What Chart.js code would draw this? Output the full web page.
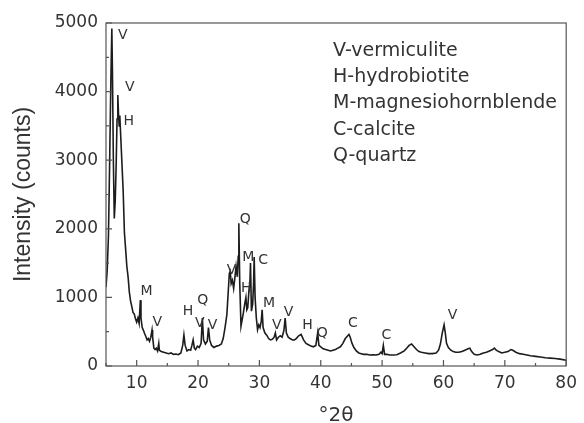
<!DOCTYPE html>
<html>
<head>
<meta charset="utf-8">
<script src="https://cdn.jsdelivr.net/npm/chart.js@4/dist/chart.umd.min.js"></script>
<style>
  html, body { margin: 0; padding: 0; background: #fff; }
  #wrap { width: 584px; height: 423px; position: relative; }
</style>
</head>
<body>
<div id="wrap"><canvas id="c"></canvas></div>
<script>
// ---- data ----
const twoTheta = [
  5.0,5.2,5.4,5.6,5.8,5.95,6.05,6.2,6.35,6.5,6.65,6.8,6.92,7.05,7.15,7.25,7.4,7.6,7.8,8.0,
  8.2,8.4,8.6,8.8,9.0,9.2,9.4,9.6,9.8,10.0,10.2,10.4,10.6,10.7,10.9,11.1,11.3,11.5,11.7,11.9,
  12.1,12.3,12.5,12.6,12.8,13.0,13.2,13.4,13.6,13.7,14.0,14.4,14.8,15.2,15.6,16.0,16.4,16.8,17.2,17.5,
  17.7,17.9,18.2,18.5,18.8,19.0,19.2,19.4,19.6,19.9,20.2,20.5,20.7,20.9,21.2,21.5,21.7,21.9,22.2,22.6,
  23.0,23.4,23.8,24.1,24.4,24.7,24.9,25.1,25.25,25.4,25.6,25.8,26.0,26.2,26.4,26.55,26.65,26.8,27.0,27.2,
  27.4,27.6,27.8,27.95,28.1,28.3,28.45,28.55,28.7,28.9,29.05,29.15,29.3,29.5,29.7,29.9,30.1,30.3,30.45,30.6,
  30.9,31.2,31.5,31.8,32.1,32.4,32.6,32.8,33.1,33.4,33.7,34.0,34.2,34.4,34.7,35.0,35.4,35.7,36.0,36.4,
  36.8,37.2,37.6,38.0,38.4,38.8,39.2,39.5,39.7,40.0,40.4,40.8,41.2,41.6,42.0,42.4,42.8,43.2,43.6,44.0,
  44.4,44.6,44.8,45.1,45.4,45.8,46.2,46.6,47.0,47.5,48.0,48.5,49.0,49.5,49.8,50.0,50.2,50.4,50.8,51.2,
  51.8,52.4,53.0,53.6,54.0,54.4,54.8,55.2,55.6,56.0,56.4,57.0,57.6,58.2,58.8,59.2,59.5,59.8,60.1,60.3,
  60.5,60.8,61.2,61.6,62.0,62.5,63.0,63.5,64.0,64.3,64.6,65.0,65.5,66.0,66.5,67.0,67.5,68.0,68.3,68.6,
  69.0,69.5,70.0,70.5,71.0,71.3,71.8,72.4,73.0,73.6,74.2,75.0,75.8,76.6,77.4,78.2,79.0,80.0
];
const intensity = [
  1150,1400,1900,3000,4200,4920,4300,3000,2150,2400,2900,3600,3950,3650,3500,3650,3350,2950,2550,1950,
  1700,1450,1300,1080,950,870,780,760,690,640,700,620,960,700,560,520,470,430,380,400,
  360,420,525,420,260,240,260,220,330,230,210,200,190,180,190,170,175,165,190,300,
  450,300,220,240,230,300,380,260,240,290,270,330,700,380,320,360,560,380,300,270,
  290,300,320,400,560,750,1050,1350,1380,1200,1250,1130,1280,1450,1300,1600,2080,1200,580,680,
  780,900,1000,820,850,1100,1200,1500,800,900,1200,1590,1000,700,530,600,560,650,820,560,
  480,450,400,380,390,420,480,380,420,440,420,520,700,480,420,400,380,380,400,440,
  460,380,330,310,290,280,300,480,300,280,250,240,230,220,230,240,260,280,330,400,
  440,460,420,330,270,220,190,180,170,170,160,165,160,170,200,180,300,170,170,160,
  160,165,190,220,260,300,320,280,240,210,200,190,180,180,190,230,320,480,600,480,
  330,270,230,210,200,200,210,230,250,260,210,170,160,170,190,200,220,240,260,230,
  210,190,200,210,240,230,200,180,170,160,150,140,130,120,115,110,100,85
];

// phase-marker letters (placed in data coordinates)
const markLabels = ['V','V','H','M','V','H','Q','V','V','V','Q','M','C','H','M','V','V','H','Q','C','C','V'];
const markX = [7.74,8.86,8.70,11.6,13.37,18.36,20.77,20.29,22.38,25.44,27.69,28.18,30.59,27.85,31.56,32.84,34.77,37.83,40.25,45.24,50.71,61.49];
const markY = [4825,4067,3571,1093,641,802,962,627,598,1399,2143,1589,1545,1137,918,598,787,598,481,627,452,743];

const legendLines = ['V-vermiculite','H-hydrobiotite','M-magnesiohornblende','C-calcite','Q-quartz'];

const xTicksLabelled = [10,20,30,40,50,60,70,80];
const yTicksLabelled = [0,1000,2000,3000,4000,5000];

// ---- chart ----
const TEXT = '#333333';
const FRAME = '#555555';

const points = twoTheta.map((x, i) => ({ x: x, y: intensity[i] }));

const decor = {
  id: 'decor',
  afterDraw(chart) {
    const ctx = chart.ctx;
    const a = chart.chartArea;
    const xs = chart.scales.x, ys = chart.scales.y;
    ctx.save();
    // frame
    ctx.strokeStyle = FRAME;
    ctx.lineWidth = 1.2;
    ctx.strokeRect(a.left, a.top, a.right - a.left, a.bottom - a.top);
    // inward ticks
    ctx.beginPath();
    xs.ticks.forEach(t => {
      const px = xs.getPixelForValue(t.value);
      const len = xTicksLabelled.includes(t.value) ? 6 : 3;
      ctx.moveTo(px, a.bottom);
      ctx.lineTo(px, a.bottom - len);
    });
    ys.ticks.forEach(t => {
      const py = ys.getPixelForValue(t.value);
      const len = yTicksLabelled.includes(t.value) ? 6 : 3;
      ctx.moveTo(a.left, py);
      ctx.lineTo(a.left + len, py);
    });
    ctx.stroke();
    // phase letters
    ctx.fillStyle = TEXT;
    ctx.font = '14px "DejaVu Sans"';
    ctx.textAlign = 'center';
    ctx.textBaseline = 'middle';
    markLabels.forEach((m, i) => {
      ctx.fillText(m, xs.getPixelForValue(markX[i]), ys.getPixelForValue(markY[i]));
    });
    // legend text block
    ctx.font = '19px "DejaVu Sans"';
    ctx.textAlign = 'left';
    legendLines.forEach((s, i) => {
      ctx.fillText(s, a.left + 227, a.top + 28 + i * 26.2);
    });
    ctx.restore();
  }
};

new Chart(document.getElementById('c'), {
  type: 'line',
  data: {
    datasets: [{
      data: points,
      borderColor: '#1c1c1c',
      borderWidth: 1.6,
      pointRadius: 0,
      tension: 0,
      fill: false
    }]
  },
  options: {
    responsive: true,
    maintainAspectRatio: false,
    animation: false,
    events: [],
    layout: { padding: { top: 23, right: 12, left: 0, bottom: 0 } },
    plugins: { legend: { display: false }, tooltip: { enabled: false } },
    scales: {
      x: {
        type: 'linear',
        min: 5, max: 80,
        grid: { display: false, drawTicks: false },
        border: { display: false },
        ticks: {
          stepSize: 5,
          autoSkip: false,
          maxRotation: 0,
          padding: 7,
          color: TEXT,
          font: { family: 'DejaVu Sans', size: 17 },
          callback: v => xTicksLabelled.includes(v) ? String(v) : ''
        },
        title: {
          display: true,
          text: '°2θ',
          color: TEXT,
          font: { family: 'DejaVu Sans', size: 20, lineHeight: 0.8 },
          padding: { top: 0, bottom: -1 }
        },
        afterFit(scale) { scale.height = 57; }
      },
      y: {
        min: 0, max: 5000,
        grid: { display: false, drawTicks: false },
        border: { display: false },
        ticks: {
          stepSize: 500,
          autoSkip: false,
          padding: 8,
          color: TEXT,
          font: { family: 'DejaVu Sans', size: 17 },
          callback: v => yTicksLabelled.includes(v) ? String(v) : ''
        },
        title: {
          display: true,
          text: 'Intensity (counts)',
          color: TEXT,
          font: { family: 'Liberation Sans', size: 23 },
          padding: { top: 10, bottom: 0 }
        },
        afterFit(scale) { scale.width = 106; }
      }
    }
  },
  plugins: [decor]
});
</script>
</body>
</html>
